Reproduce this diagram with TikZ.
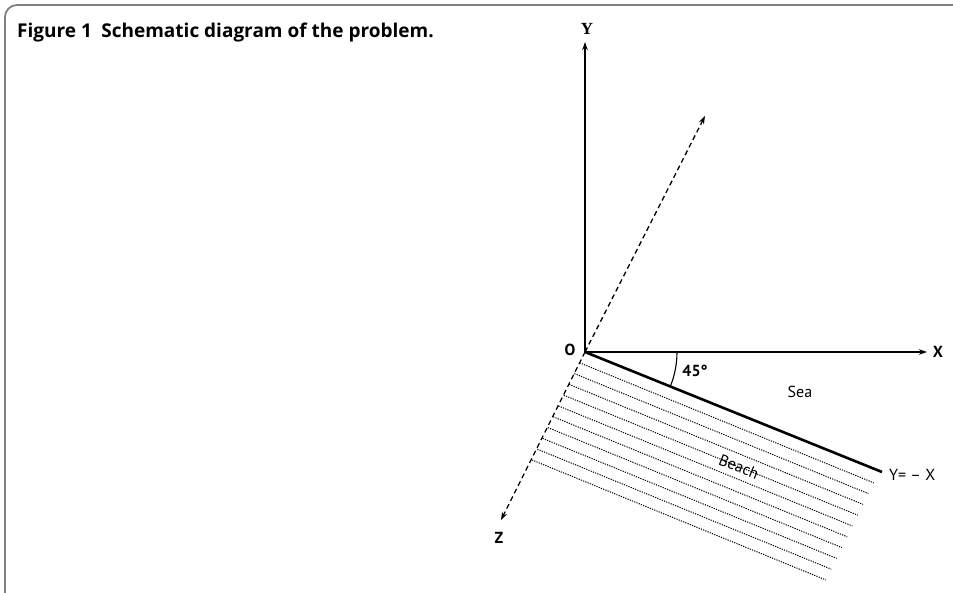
\documentclass[tikz,border=0pt]{standalone}
\usepackage{fontspec}
\setmainfont{Liberation Serif}
\setsansfont{PT Sans}
\newfontfamily\capfont{Open Sans}
\usetikzlibrary{arrows.meta,calc}
\begin{document}
\begin{tikzpicture}[x=1pt,y=-1pt,
  axis/.style={line width=1.3pt,-{Stealth[length=8pt,width=5.5pt]}},
  dashaxis/.style={line width=1.3pt,dash pattern=on 5pt off 3.5pt,-{Stealth[length=8pt,width=5.5pt]}},
  shore/.style={line width=2.6pt},
  hatch/.style={line width=1pt,dash pattern=on 1.2pt off 1.2pt},
  lab/.style={font=\sffamily\bfseries\fontsize{16}{18}\selectfont,inner sep=0pt},
  txt/.style={font=\sffamily\fontsize{16}{18}\selectfont,inner sep=0pt},
  axlab/.style={font=\rmfamily\bfseries\fontsize{17}{19}\selectfont,inner sep=0pt},
  frame/.style={draw=black!50,line width=1.8pt,rounded corners=12pt}]
\useasboundingbox (0,0) rectangle (953,593);
% frame
\draw[frame] (5,600) -- (5,5) -- (960,5);
% caption
\node[anchor=base west,inner sep=0pt,font=\capfont\bfseries\fontsize{19}{22}\selectfont] (cap) at (17,38) {Figure 1\hspace{0.5em}Schematic diagram of the problem.};
% key points
\coordinate (O) at (585,352);
\coordinate (ytip) at (585,42);
\coordinate (xtip) at (927,352);
\coordinate (dtop) at (705,116);
\coordinate (ztip) at (501,520);
\coordinate (send) at (882,472);
% beach hatching
\foreach \k in {1,...,10}{
  \draw[hatch] ($(O)+(-5.3*\k,10.8*\k)$) -- ++(294,120);
}
% axes
\draw[axis] (O) -- (ytip);
\draw[axis] (O) -- (xtip);
\draw[dashaxis] (O) -- (dtop);
\draw[dashaxis] (O) -- (ztip);
\draw[shore] (O) -- (send);
% angle arc
\draw[line width=1.1pt] (O) ++(0:92) arc[start angle=0,end angle=21.9,radius=92];
% labels
\node[axlab] (ly) at (587,29) {Y};
\node[lab] (lx) at (938,352) {X};
\node[lab] (lo) at (570,350) {O};
\node[lab] (lz) at (499,538) {Z};
\node[lab] (la) at (695,371) {45°};
\node[txt] (ls) at (800,392) {Sea};
\node[txt,rotate=-22] (lb) at (739,467) {Beach};
\node[txt,anchor=west] (le) at (889,475) {Y= -- X};
\end{tikzpicture}
\end{document}
